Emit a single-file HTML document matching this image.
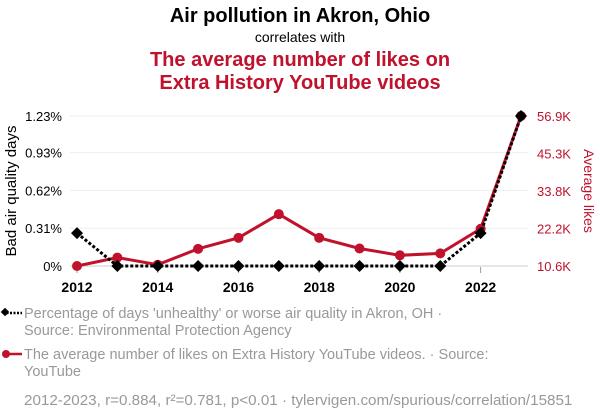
<!DOCTYPE html>
<html><head><meta charset="utf-8"><style>
body{margin:0;background:#fff;width:600px;height:414px;overflow:hidden;font-family:"Liberation Sans",sans-serif}
</style></head><body>
<svg width="600" height="414" xmlns="http://www.w3.org/2000/svg" font-family="Liberation Sans, sans-serif">
<text x="300" y="22" text-anchor="middle" font-size="20" font-weight="bold" fill="#000">Air pollution in Akron, Ohio</text>
<text x="300" y="42" text-anchor="middle" font-size="14" fill="#000">correlates with</text>
<text x="300" y="66" text-anchor="middle" font-size="20" font-weight="bold" fill="#c0122c">The average number of likes on</text>
<text x="300" y="89" text-anchor="middle" font-size="20" font-weight="bold" fill="#c0122c">Extra History YouTube videos</text>
<g id="grid"></g>
<g id="axes"></g>
<g id="series"></g>
<text transform="translate(16,191) rotate(-90)" text-anchor="middle" font-size="15" fill="#000">Bad air quality days</text>
<text transform="translate(584,191) rotate(90)" text-anchor="middle" font-size="14" fill="#c0122c">Average likes</text>
<g>
<line x1="3" y1="313" x2="22" y2="313" stroke="#000" stroke-width="2.5" stroke-dasharray="2,1.5"/>
<rect x="2" y="309" width="6" height="6" transform="rotate(45 5 312)" fill="#000"/>
<text x="24" y="318" font-size="14.5" fill="#999">Percentage of days 'unhealthy' or worse air quality in Akron, OH ·</text>
<text x="24" y="335" font-size="14.5" fill="#999">Source: Environmental Protection Agency</text>
</g>
<g>
<line x1="3" y1="354" x2="22" y2="354" stroke="#c0122c" stroke-width="2.5"/>
<circle cx="6" cy="354" r="4" fill="#c0122c"/>
<text x="24" y="359" font-size="14.5" fill="#999">The average number of likes on Extra History YouTube videos. · Source:</text>
<text x="24" y="376" font-size="14.5" fill="#999">YouTube</text>
</g>
<text x="24" y="405" font-size="15.2" fill="#999">2012-2023, r=0.884, r²=0.781, p&lt;0.01 · tylervigen.com/spurious/correlation/15851</text>
</svg>
<script>
const years=[2012,2013,2014,2015,2016,2017,2018,2019,2020,2021,2022,2023];
const airValues=[0.27,0,0,0,0,0,0,0,0,0,0.27,1.23];
const likesValues=[10.6,13.2,11.0,15.9,19.3,26.6,19.3,16.0,13.9,14.5,22.1,56.9];
const leftTicks=[0,0.31,0.62,0.93,1.23];
const leftTickLabels=["0%","0.31%","0.62%","0.93%","1.23%"];
const rightTicks=[10.6,22.2,33.8,45.3,56.9];
const rightTickLabels=["10.6K","22.2K","33.8K","45.3K","56.9K"];
const xTicks=[2012,2014,2016,2018,2020,2022];
const NS="http://www.w3.org/2000/svg";
const X=y=>77+(y-2012)*(521-77)/11;
const YL=v=>266-v/1.23*150;
const YR=v=>266-(v-10.6)/(56.9-10.6)*150;
function mk(t,a,p){const e=document.createElementNS(NS,t);for(const k in a)e.setAttribute(k,a[k]);p.appendChild(e);return e;}
const grid=document.getElementById('grid'),axes=document.getElementById('axes'),ser=document.getElementById('series');
leftTicks.forEach((v,i)=>{
 const l=mk('line',{x1:70,x2:528,y1:YL(v),y2:YL(v),stroke:i==0?'#ccc':'#eee','stroke-width':1},grid);
 
 
 const t=mk('text',{x:62,y:YL(v)+5,'text-anchor':'end','font-size':13,fill:'#000'},axes);t.textContent=leftTickLabels[i];
 
 
});
rightTicks.forEach((v,i)=>{
 const t=mk('text',{x:537,y:YR(v)+5,'font-size':13,fill:'#c0122c'},axes);t.textContent=rightTickLabels[i];
 
 
});
xTicks.forEach(y=>{
 mk('line',{x1:X(y),x2:X(y),y1:267,y2:273,stroke:'#999'},axes);
 const t=mk('text',{x:X(y),y:292,'text-anchor':'middle','font-size':14,'font-weight':'bold',fill:'#000'},axes);t.textContent=y;
 
 
});
const lp=mk('polyline',{points:years.map((y,i)=>X(y)+','+YR(likesValues[i])).join(' '),fill:'none',stroke:'#c0122c','stroke-width':3},ser);


years.forEach((y,i)=>{const c=mk('circle',{cx:X(y),cy:YR(likesValues[i]),r:5,fill:'#c0122c'},ser);
 
 });
const ap=mk('polyline',{points:years.map((y,i)=>X(y)+','+YL(airValues[i])).join(' '),fill:'none',stroke:'#000','stroke-width':3,'stroke-dasharray':'3,2'},ser);


years.forEach((y,i)=>{const x=X(y),yy=YL(airValues[i]);const d=mk('polygon',{points:`${x},${yy-6} ${x+6},${yy} ${x},${yy+6} ${x-6},${yy}`,fill:'#000'},ser);
 
 });
</script>
</body></html>
